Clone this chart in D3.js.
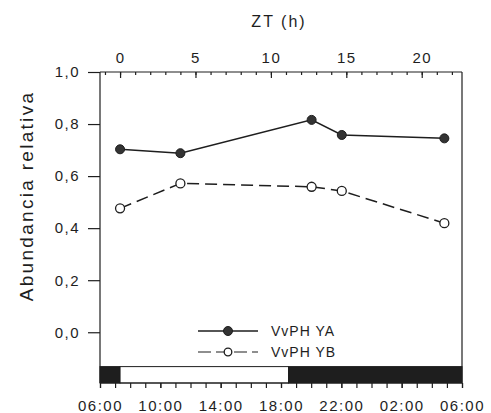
<!DOCTYPE html>
<html>
<head>
<meta charset="utf-8">
<script src="https://cdn.jsdelivr.net/npm/d3@7"></script>
<style>
  html, body { margin: 0; padding: 0; background: #ffffff; }
  svg { display: block; }
  text { font-family: "Liberation Sans", Arial, sans-serif; fill: #1e1e1e; }
</style>
</head>
<body>
<svg id="chart" width="491" height="413"></svg>
<script>
// ---- data ----
const ztHours = [0, 4, 12.7, 14.7, 21.5];
const seriesYA = [0.703, 0.688, 0.816, 0.758, 0.745];
const seriesYB = [0.476, 0.572, 0.559, 0.543, 0.419];
const seriesNames = ["VvPH YA", "VvPH YB"];
const yTickValues = [0, 0.2, 0.4, 0.6, 0.8, 1.0];
const ztTickValues = [0, 5, 10, 15, 20];
const clockTickHours = [0, 4, 8, 12, 16, 20, 24];           // hours after 06:00
const clockTickLabels = ["06:00", "10:00", "14:00", "18:00", "22:00", "02:00", "06:00"];
const photoStart = [0, 1.33, 12.5];                          // hours after 06:00
const photoEnd = [1.33, 12.5, 24];
const photoLight = [false, true, false];

// ---- layout ----
const svg = d3.select("#chart");
const L = 100, R = 462, T = 72, B = 383;
const ink = "#1e1e1e";

const x = d3.scaleLinear().domain([-1.33, 22.67]).range([L, R]);
const xClock = d3.scaleLinear().domain([0, 24]).range([L, R]);
const y = d3.scaleLinear().domain([-0.195, 1.0]).range([B, T]);
const fmtComma = v => d3.format(".1f")(v).replace(".", ",");

// photoperiod bar
const barTop = y(-0.132);
const photo = photoStart.map((s, i) => ({ s, e: photoEnd[i], light: photoLight[i] }));
svg.append("g").selectAll("rect").data(photo).join("rect")
  .attr("x", d => xClock(d.s))
  .attr("y", barTop)
  .attr("width", d => xClock(d.e) - xClock(d.s))
  .attr("height", B - barTop)
  .attr("fill", d => d.light ? "#ffffff" : ink)
  .attr("stroke", ink)
  .attr("stroke-width", 1);

// left axis
const gL = svg.append("g").attr("transform", `translate(${L},0)`)
  .call(d3.axisLeft(y).tickValues(yTickValues).tickSize(12).tickSizeOuter(0).tickPadding(8).tickFormat(fmtComma));
gL.select(".domain").attr("d", `M0,${T}V${B}`);

// top axis (ZT)
const gTminor = svg.append("g").attr("transform", `translate(0,${T})`)
  .call(d3.axisTop(x).tickValues(d3.range(-1, 23, 1)).tickSize(-3).tickSizeOuter(0).tickFormat(""));
const gT = svg.append("g").attr("transform", `translate(0,${T})`)
  .call(d3.axisTop(x).tickValues(ztTickValues).tickSize(-6).tickSizeOuter(0).tickPadding(9));
gT.select(".domain").attr("d", `M${L},0H${R}`);
gTminor.select(".domain").remove();

// bottom axis (clock)
const gBminor = svg.append("g").attr("transform", `translate(0,${B})`)
  .call(d3.axisBottom(xClock).tickValues(d3.range(0, 25, 1)).tickSize(5).tickSizeOuter(0).tickFormat(""));
gBminor.select(".domain").attr("d", `M${L},0H${R}`);
const gB = svg.append("g").attr("transform", `translate(0,${B})`)
  .call(d3.axisBottom(xClock).tickValues(clockTickHours).tickSize(5).tickSizeOuter(0)
    .tickFormat((d, i) => clockTickLabels[i]));
gB.select(".domain").remove();
gB.selectAll(".tick text").attr("y", 28).attr("dy", 0);

// right frame
svg.append("line").attr("x1", R).attr("x2", R).attr("y1", T).attr("y2", B)
  .attr("stroke", ink).attr("stroke-width", 1.2);

svg.selectAll(".domain, .tick line").attr("stroke", ink).attr("stroke-width", 1.2);
svg.selectAll(".tick text").attr("fill", ink)
  .style("font-size", "15px").style("letter-spacing", "1.5px");

// titles
svg.append("text").attr("x", 279).attr("y", 27).attr("text-anchor", "middle")
  .style("font-size", "16px").style("letter-spacing", "2px").text("ZT (h)");
svg.append("text").attr("transform", "translate(33,196) rotate(-90)").attr("text-anchor", "middle")
  .style("font-size", "19px").style("letter-spacing", "2.3px").text("Abundancia relativa");

// lines
const pts = (vals) => ztHours.map((h, i) => [h, vals[i]]);
const line = d3.line().x(d => x(d[0])).y(d => y(d[1]));
svg.append("path").datum(pts(seriesYA)).attr("d", line)
  .attr("fill", "none").attr("stroke", ink).attr("stroke-width", 1.5);
svg.append("path").datum(pts(seriesYB)).attr("d", line)
  .attr("fill", "none").attr("stroke", ink).attr("stroke-width", 1.5).attr("stroke-dasharray", "12,6");

svg.append("g").selectAll("circle").data(pts(seriesYA)).join("circle")
  .attr("cx", d => x(d[0])).attr("cy", d => y(d[1])).attr("r", 4.5)
  .attr("fill", "#333").attr("stroke", ink).attr("stroke-width", 1);
svg.append("g").selectAll("circle").data(pts(seriesYB)).join("circle")
  .attr("cx", d => x(d[0])).attr("cy", d => y(d[1])).attr("r", 4.5)
  .attr("fill", "#fff").attr("stroke", ink).attr("stroke-width", 1.3);

// legend
const leg = svg.append("g");
leg.append("line").attr("x1", 198).attr("x2", 258).attr("y1", 331).attr("y2", 331)
  .attr("stroke", ink).attr("stroke-width", 1.5);
leg.append("circle").attr("cx", 228).attr("cy", 331).attr("r", 4.5).attr("fill", "#333").attr("stroke", ink);
leg.append("line").attr("x1", 198).attr("x2", 258).attr("y1", 352).attr("y2", 352)
  .attr("stroke", ink).attr("stroke-width", 1.2).attr("stroke-dasharray", "13,5");
leg.append("circle").attr("cx", 228).attr("cy", 352).attr("r", 3.8).attr("fill", "#fff").attr("stroke", ink).attr("stroke-width", 1.3);
leg.selectAll("text.lg").data(seriesNames).join("text").attr("class", "lg")
  .attr("x", 271).attr("y", (d, i) => 336 + i * 21)
  .style("font-size", "14px").style("letter-spacing", "1px").text(d => d);
</script>
</body>
</html>
